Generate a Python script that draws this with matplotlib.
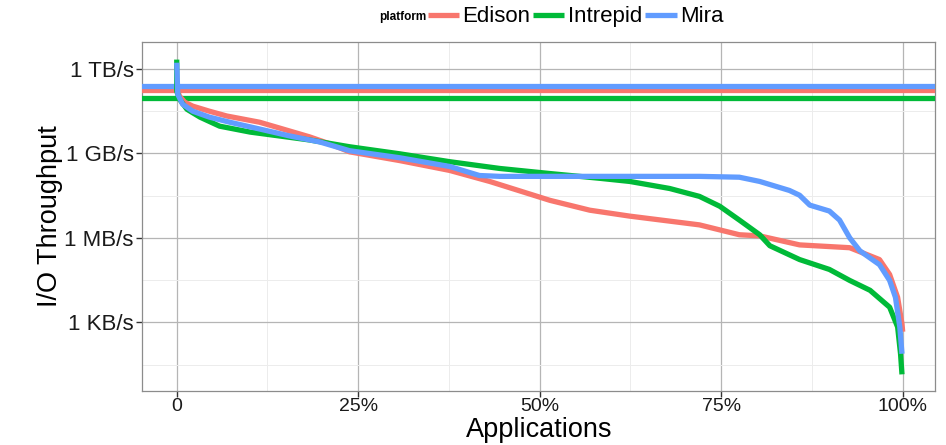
import numpy as np
import matplotlib
matplotlib.use('Agg')
import matplotlib.pyplot as plt

plt.rcParams['font.family'] = ['Liberation Sans', 'DejaVu Sans']

# values: x in % of applications, y as log10(bytes/s)
platforms = ['Edison', 'Intrepid', 'Mira']
colors = {'Edison': '#F8766D', 'Intrepid': '#00BA38', 'Mira': '#619CFF'}

# peak bandwidth of each machine (bytes/s)
peak = {'Edison': 168e9, 'Intrepid': 88e9, 'Mira': 240e9}

edison_x = [0, 0.4, 1.1, 2.2, 4.5, 6.9, 11.4, 14.2, 18.3, 21.1, 23.8, 30.7, 37.6, 43.1,
            51.4, 56.9, 62.4, 72.0, 77.5, 80.3, 85.8, 92.7, 96.8, 98.2, 99.3, 99.9, 100]
edison_y = [11.26, 11.02, 10.81, 10.67, 10.49, 10.32, 10.1, 9.89, 9.58, 9.33, 9.05, 8.74, 8.39, 8.0,
            7.33, 6.98, 6.77, 6.46, 6.11, 6.07, 5.75, 5.65, 5.23, 4.70, 3.89, 2.95, 2.67]

intrepid_x = [0, 0.0, 0.4, 1.4, 3.2, 5.9, 10.1, 14.2, 18.3, 23.8, 30.7, 37.6, 44.5, 51.4,
              58.3, 62.4, 67.9, 72.0, 74.8, 77.5, 80.3, 81.7, 85.8, 89.9, 92.7, 95.5, 98.2,
              99.3, 99.7, 99.9]
intrepid_y = [12.32, 11.2, 10.91, 10.56, 10.28, 9.96, 9.75, 9.61, 9.47, 9.23, 8.98, 8.70, 8.46, 8.28,
              8.11, 8.0, 7.75, 7.47, 7.12, 6.63, 6.11, 5.72, 5.23, 4.88, 4.49, 4.14, 3.54,
              2.84, 1.89, 1.16]

mira_x = [0, 0.14, 0.8, 2.2, 4.5, 7.3, 11.4, 15.6, 19.7, 23.8, 30.7, 37.6, 41.7, 44.5,
          58.3, 72.0, 77.5, 80.3, 84.4, 85.8, 87.2, 89.9, 91.3, 92.7, 94.1, 96.8, 98.2,
          99.0, 99.6, 99.9]
mira_y = [12.21, 11.09, 10.74, 10.49, 10.28, 10.1, 9.86, 9.61, 9.40, 9.09, 8.84, 8.53, 8.21, 8.18,
          8.18, 8.18, 8.15, 8.0, 7.68, 7.51, 7.16, 6.95, 6.63, 6.0, 5.54, 5.05, 4.49,
          3.89, 2.84, 1.89]

curves = {
    'Edison': (edison_x, edison_y),
    'Intrepid': (intrepid_x, intrepid_y),
    'Mira': (mira_x, mira_y),
}

fig = plt.figure(figsize=(9.46, 4.45), dpi=100)
ax = fig.add_axes([0.150, 0.122, 0.838, 0.784])

# horizontal peak lines go under the curves
for p in platforms:
    ax.axhline(peak[p], color=colors[p], lw=3.8, zorder=3)

for p in platforms:
    x, y = curves[p]
    ax.plot(x, 10 ** np.array(y), color=colors[p], lw=3.8, label=p,
            solid_capstyle='butt', zorder=4)

ax.set_yscale('log')
ax.set_ylim(10 ** 0.58, 10 ** 12.95)
ax.set_xlim(-4.8, 104.4)

ax.set_yticks([1e3, 1e6, 1e9, 1e12])
ax.set_yticklabels(['1 KB/s', '1 MB/s', '1 GB/s', '1 TB/s'], fontsize=16)
ax.set_yticks([10 ** 1.5, 10 ** 4.5, 10 ** 7.5, 10 ** 10.5], minor=True)
ax.set_xticks([0, 25, 50, 75, 100])
ax.set_xticklabels(['0', '25%', '50%', '75%', '100%'], fontsize=14)
ax.set_xticks([12.5, 37.5, 62.5, 87.5], minor=True)
ax.yaxis.set_minor_formatter(matplotlib.ticker.NullFormatter())

ax.tick_params(which='major', length=4, width=1, color='#333333', labelcolor='#1a1a1a', pad=2)
ax.tick_params(axis='x', which='major', pad=1)
ax.tick_params(which='minor', length=0)
ax.grid(which='major', color='#b5b5b5', lw=0.9, zorder=0)
ax.grid(which='minor', color='#ececec', lw=0.7, zorder=0)
ax.set_axisbelow(True)
for s in ax.spines.values():
    s.set_color('#8c8c8c')
    s.set_linewidth(0.9)

# x title placed by hand so it sits right at the bottom edge like the reference
fig.text(0.570, 0.004, 'Applications', fontsize=19.5, ha='center', va='bottom')
ax.set_ylabel('I/O Throughput', fontsize=19.5, labelpad=1)

# legend on top, ggplot style with title on the left
fig.text(0.451, 0.962, 'platform', fontsize=8.5, fontweight='bold', ha='right', va='center')
leg = fig.legend(loc='center left', bbox_to_anchor=(0.452, 0.962), ncol=3, frameon=False,
                 fontsize=16, handlelength=1.4, handletextpad=0.15, columnspacing=0.15,
                 borderpad=0, borderaxespad=0)
for h in leg.legend_handles:
    h.set_linewidth(3.8)

fig.savefig('out.png', dpi=100)
